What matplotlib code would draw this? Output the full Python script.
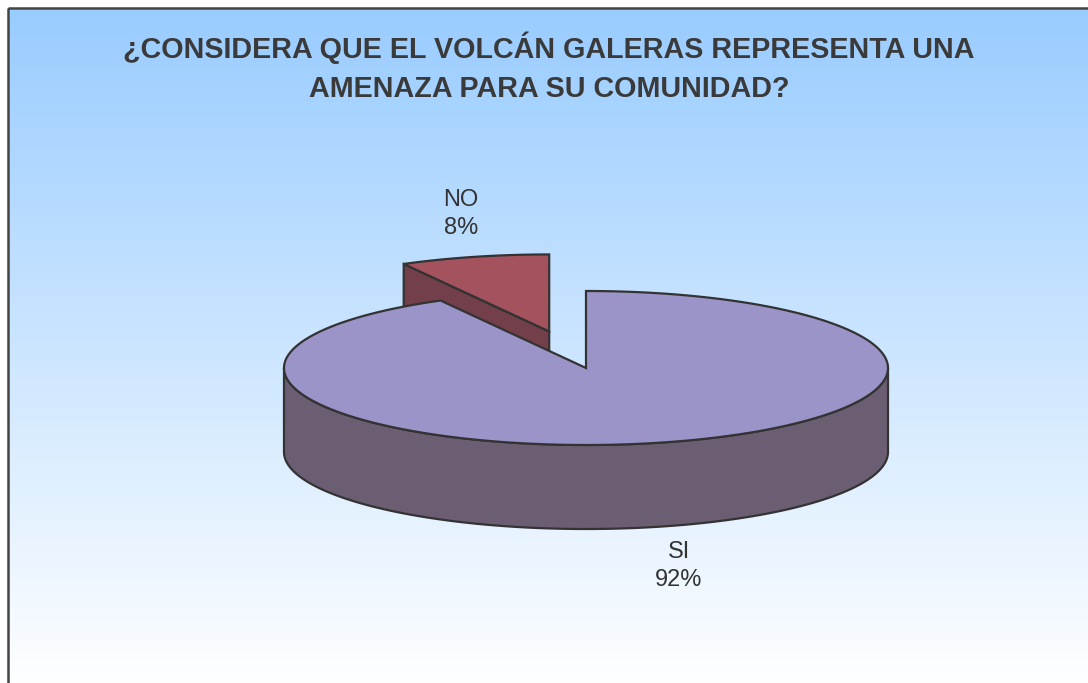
import numpy as np
import matplotlib.pyplot as plt
from matplotlib.patches import Polygon, Rectangle

# Data
labels = ["SI", "NO"]
values = [92, 8]
title = "¿CONSIDERA QUE EL VOLCÁN GALERAS REPRESENTA UNA\nAMENAZA PARA SU COMUNIDAD?"

# Colours (top face, side face)
top_colors = ["#9B94C8", "#A5525F"]
side_colors = ["#6B5E72", "#723F4A"]
explode = [0.0, 0.49]
edge = "#333333"

# Layout of the 3d pie in pixel units
W, H = 1088, 683
cx, cy = 586, 368
rx, ry = 302, 77
depth = 84

fig = plt.figure(figsize=(W / 100, H / 100), dpi=100)
ax = fig.add_axes([0, 0, 1, 1])
ax.set_xlim(0, W)
ax.set_ylim(H, 0)
ax.axis("off")

# background gradient inside chart frame
grad = np.linspace(0, 1, 256)[:, None]
top_rgb = np.array([153, 204, 255]) / 255
bot_rgb = np.array([255, 255, 255]) / 255
img = top_rgb * (1 - grad[..., None]) + bot_rgb * grad[..., None]
img = np.repeat(img, 2, axis=1)
ax.imshow(img, extent=[8, W + 5, H + 5, 8], aspect="auto", zorder=0)
ax.add_patch(Rectangle((8, 8), W, H, fill=False, ec="#444444", lw=1.8, zorder=1))


def pt(t, ox, oy, r=1.0, dz=0.0):
    return (cx + ox + r * rx * np.cos(t), cy + oy - r * ry * np.sin(t) + dz)


# slice angles: clockwise from 12 o'clock
fracs = np.array(values) / sum(values)
angles = []
start = 90.0
for f in fracs:
    end = start - f * 360
    angles.append((end, start))  # increasing order (a1 < a2)
    start = end

z = 2
# draw the small exploded slice first (it sits behind)
for i in [1, 0]:
    a1, a2 = np.radians(angles[i][0]), np.radians(angles[i][1])
    mid = (a1 + a2) / 2
    ox = explode[i] * rx * np.cos(mid)
    oy = -explode[i] * ry * np.sin(mid)
    apex = (cx + ox, cy + oy)

    # radial faces
    for a, nrm in [(a1, a1 - np.pi / 2), (a2, a2 + np.pi / 2)]:
        if np.sin(nrm) < -1e-6:
            p = pt(a, ox, oy)
            quad = [apex, p, (p[0], p[1] + depth), (apex[0], apex[1] + depth)]
            ax.add_patch(Polygon(quad, closed=True, fc=side_colors[i], ec=edge, lw=1.6, zorder=z))
            z += 1

    # outer wall, front half only
    segs = []
    for k in range(-2, 2):
        s0 = max(a1, -np.pi + 2 * np.pi * k)
        s1 = min(a2, 2 * np.pi * k)
        if s1 > s0:
            segs.append((s0, s1))
    for s0, s1 in segs:
        t = np.linspace(s0, s1, 200)
        topx, topy = pt(t, ox, oy)
        poly = list(zip(topx, topy)) + list(zip(topx[::-1], topy[::-1] + depth))
        ax.add_patch(Polygon(poly, closed=True, fc=side_colors[i], ec=edge, lw=1.6, zorder=z))
        z += 1

    # top face
    t = np.linspace(a1, a2, 400)
    tx, ty = pt(t, ox, oy)
    poly = [apex] + list(zip(tx, ty))
    ax.add_patch(Polygon(poly, closed=True, fc=top_colors[i], ec=edge, lw=1.6, zorder=z))
    z += 1

# data labels
label_pos = {"NO": (461, 214), "SI": (679, 566)}
for lab, v in zip(labels, values):
    x, y = label_pos[lab]
    ax.text(x, y, f"{lab}\n{v}%", ha="center", va="center", fontsize=17,
            family="Liberation Sans", color="#333333", linespacing=1.4, zorder=20)

ax.text(549, 67, title, ha="center", va="center", fontsize=20.7, fontweight="bold",
        family="Liberation Sans", color="#3a3a3a", linespacing=1.52, zorder=20)

fig.savefig("out.png", dpi=100)
